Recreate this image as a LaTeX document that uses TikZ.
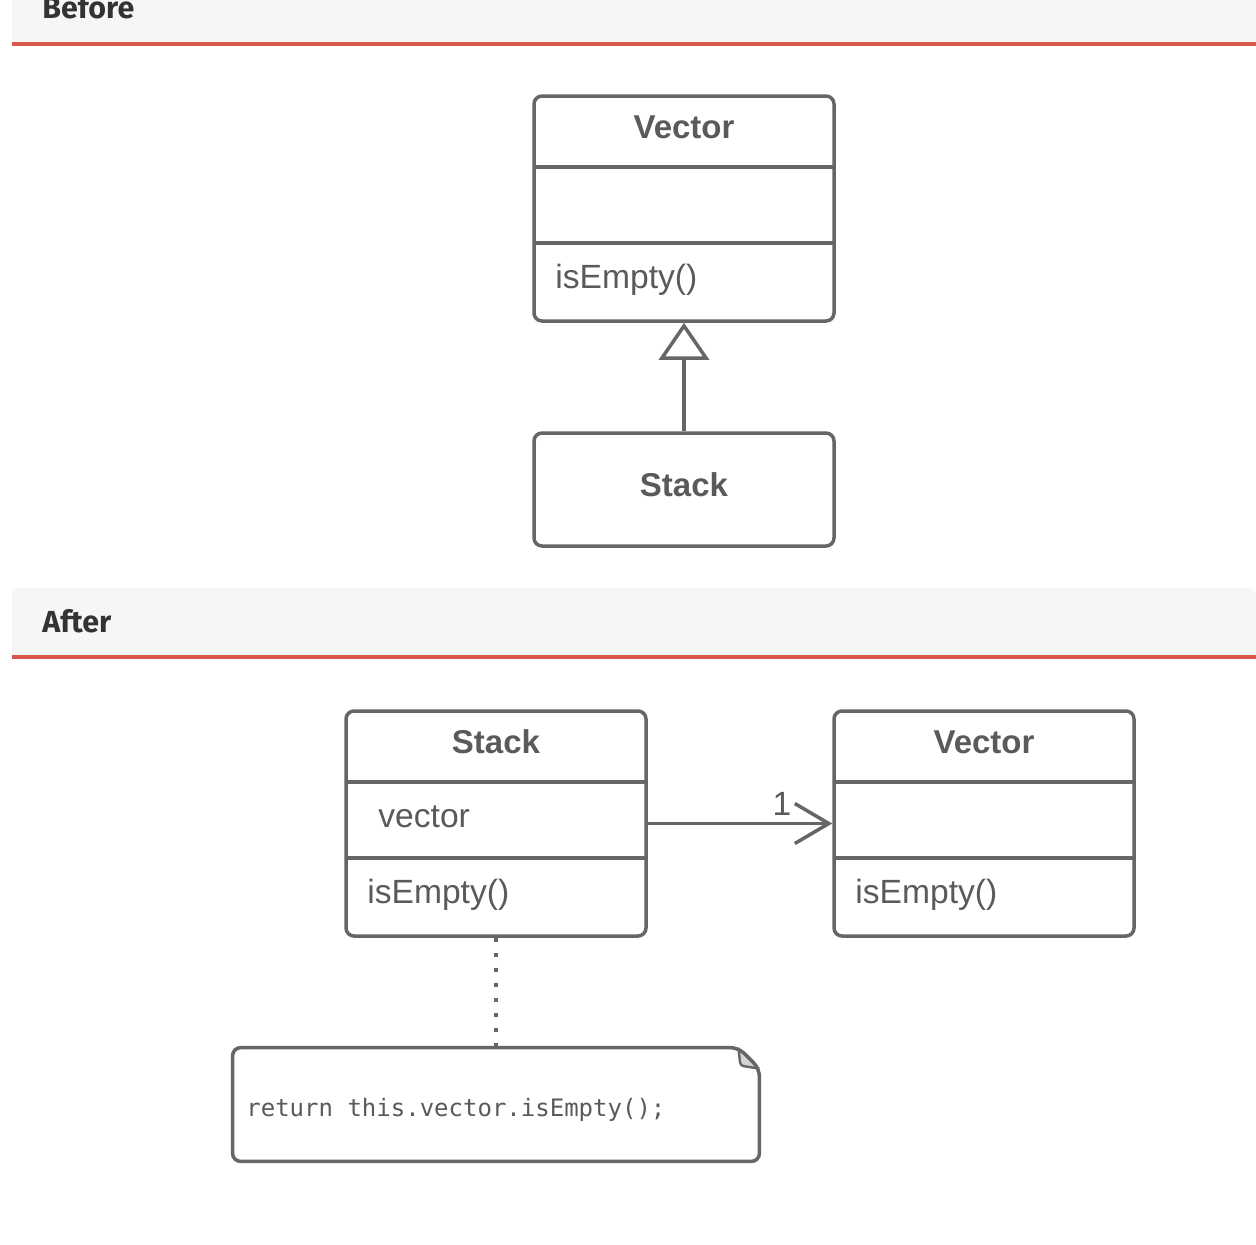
\documentclass[tikz,border=0pt]{standalone}
\usepackage{fontspec}
\usepackage{xcolor}
\setmainfont{Liberation Sans}
\newfontfamily\headfont{Fira Sans}
\newfontfamily\codefont{DejaVu Sans Mono}
\usetikzlibrary{arrows.meta}
\definecolor{umlgray}{HTML}{666666}
\definecolor{umltext}{HTML}{5A5A5A}
\definecolor{hdrfill}{HTML}{F5F7F7}
\definecolor{hdrred}{HTML}{D9574A}
\definecolor{hdrtext}{HTML}{333333}
\definecolor{foldgray}{HTML}{D4D4D4}
\tikzset{
	classbox/.style={draw=umlgray,line width=1.75pt,rounded corners=4pt,minimum width=150pt,inner sep=0pt},
	umlline/.style={draw=umlgray,line width=1.75pt},
	uname/.style={font=\fontsize{16.5}{20}\selectfont\bfseries,text=umltext,inner sep=0pt,anchor=base},
	umember/.style={font=\fontsize{16.8}{20}\selectfont,text=umltext,inner sep=0pt,anchor=base west},
	head/.style={font=\headfont\bfseries\fontsize{15.2}{18}\selectfont,text=hdrtext,inner sep=0pt,anchor=base west}
}
\begin{document}
\begin{tikzpicture}[line join=round,x=0.5pt,y=-0.5pt]
			\useasboundingbox (0,0) rectangle (1256,1244);
			\fill [white] (0,0) rectangle (1256,1244);
			% headers
			\fill [hdrfill] (12,-10) rectangle (1256,42);
			\fill [hdrred] (12,42) rectangle (1256,45.5);
			\node [head] (before) at (42,18) {Before};
			\fill [hdrfill] (12,655) [rounded corners=4pt] -- (12,588) -- (1256,588) [sharp corners] -- (1256,655) -- cycle;
			\fill [hdrred] (12,655) rectangle (1256,658.5);
			\node [head] (after) at (42,632) {After};
			% before
			\node [classbox,minimum height=112.5pt] (vecA) at (684,208.5) {};
			\draw [umlline] (534,167) -- (834,167);
			\draw [umlline] (534,243) -- (834,243);
			\node [uname] (vecAname) at (684,138) {Vector};
			\node [umember] (vecAop) at (555,288) {isEmpty()};
			\node [classbox,minimum height=56.5pt] (stackA) at (684,489.5) {};
			\node [uname] (stackAname) at (684,496) {Stack};
			\draw [umlline,-{Triangle[open,length=18.5pt,width=25pt]}] (stackA) -- (vecA);
			% after
			\node [classbox,minimum height=112.5pt] (stackB) at (496,823.5) {};
			\draw [umlline] (346,782) -- (646,782);
			\draw [umlline] (346,858) -- (646,858);
			\node [uname] (stackBname) at (496,753) {Stack};
			\node [umember] (stackBattr) at (378,827) {vector};
			\node [umember] (stackBop) at (367,903) {isEmpty()};
			\node [classbox,minimum height=112.5pt] (vecB) at (984,823.5) {};
			\draw [umlline] (834,782) -- (1134,782);
			\draw [umlline] (834,858) -- (1134,858);
			\node [uname] (vecBname) at (984,753) {Vector};
			\node [umember] (vecBop) at (855,903) {isEmpty()};
			\draw [umlline,-{Straight Barb[length=17pt,width=20pt]}] (stackB) -- (vecB);
			\node [umember,anchor=base] (mult) at (782,815) {1};
			% note
			\node [minimum width=263pt,minimum height=56.5pt,inner sep=0pt] (note) at (496,1104.5) {};
			\draw [umlline,line width=2pt,line cap=butt,dash pattern=on 2pt off 5.5pt] (stackB) -- (note);
			\fill [foldgray] ([xshift=-10.5pt]note.north east) -- ([xshift=-9.5pt,yshift=-9pt]note.north east) -- ([yshift=-10.5pt]note.north east) -- cycle;
			\draw [umlline,rounded corners=4pt] ([xshift=-10.5pt]note.north east) -- ([yshift=-10.5pt]note.north east) -- (note.south east) -- (note.south west) -- (note.north west) -- cycle;
			\draw [umlline,line width=1.2pt,rounded corners=1.5pt] ([xshift=-10.5pt]note.north east) -- ([xshift=-9.5pt,yshift=-9pt]note.north east) -- ([yshift=-10.5pt]note.north east);
			\node [font=\codefont\fontsize{12}{14}\selectfont,text=umltext,inner sep=0pt,anchor=base west] (notetext) at (246,1116) {return this.vector.isEmpty();};
\end{tikzpicture}
\end{document}
